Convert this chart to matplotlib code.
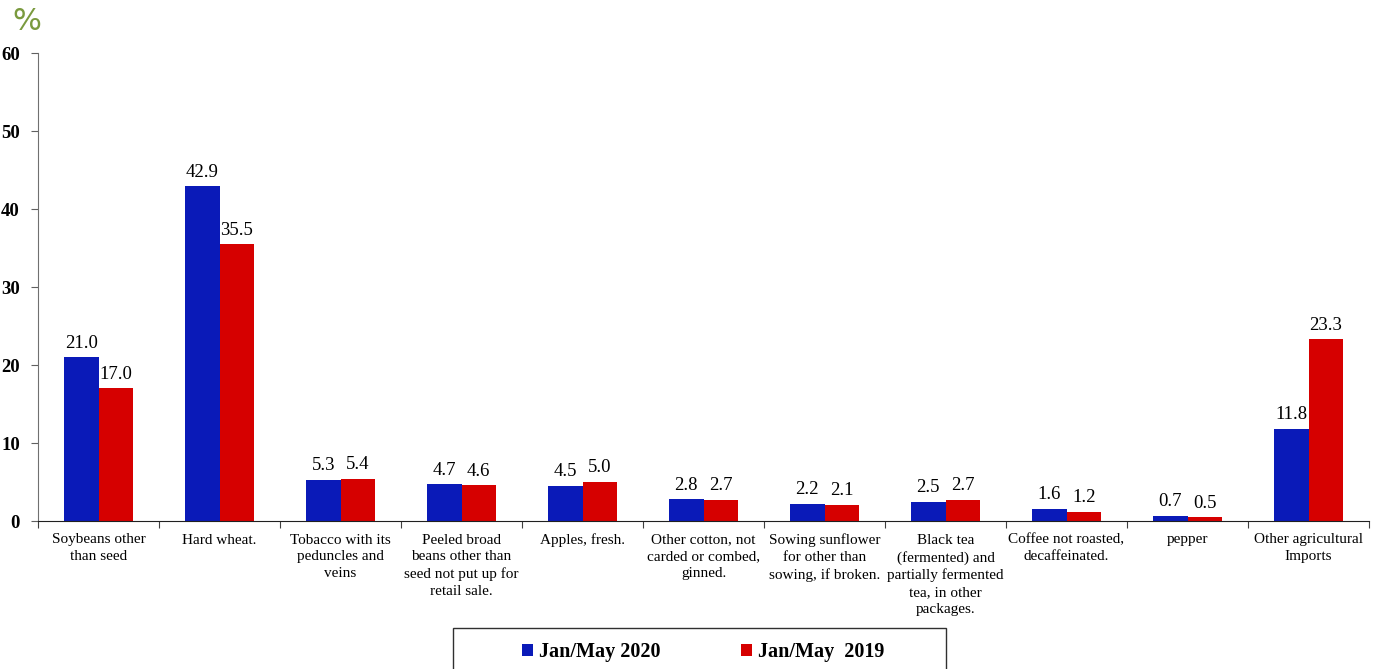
import matplotlib
matplotlib.use("Agg")
import matplotlib.pyplot as plt
import numpy as np
from matplotlib.patches import Rectangle

categories = ["Soybeans other\nthan seed", "Hard wheat.", "Tobacco with its\npeduncles and\nveins",
              "Peeled broad\nbeans other than\nseed not put up for\nretail sale.", "Apples, fresh.",
              "Other cotton, not\ncarded or combed,\nginned.", "Sowing sunflower\nfor other than\nsowing, if broken.",
              "Black tea\n(fermented) and\npartially fermented\ntea, in other\npackages.",
              "Coffee not roasted,\ndecaffeinated.", "pepper", "Other agricultural\nImports"]
jan_may_2020 = [21.0, 42.9, 5.3, 4.7, 4.5, 2.8, 2.2, 2.5, 1.6, 0.7, 11.8]
jan_may_2019 = [17.0, 35.5, 5.4, 4.6, 5.0, 2.7, 2.1, 2.7, 1.2, 0.5, 23.3]
series_names = ["Jan/May 2020", "Jan/May  2019"]
yticks = [0, 10, 20, 30, 40, 50, 60]

plt.rcParams['font.family'] = ['Liberation Serif', 'DejaVu Serif']

fig = plt.figure(figsize=(13.91, 6.69), dpi=100)
ax = fig.add_axes([38/1391, 1-521/669, (1369-38)/1391, (521-53)/669])

x = np.arange(len(categories))
w = 0.285
blue = "#0A1AB8"
red = "#D60000"
b1 = ax.bar(x - w/2, jan_may_2020, w, color=blue, label=series_names[0])
b2 = ax.bar(x + w/2, jan_may_2019, w, color=red, label=series_names[1])

for bars, vals in ((b1, jan_may_2020), (b2, jan_may_2019)):
    for r, v in zip(bars, vals):
        ax.annotate(f"{v:.1f}", (r.get_x() + r.get_width()/2, v), xytext=(0, 4),
                    textcoords="offset points", ha="center", va="bottom", fontsize=13.5)

ax.set_xlim(-0.5, len(categories) - 0.5)
ax.set_ylim(0, 60)
ax.set_yticks(yticks)
ax.set_yticklabels([str(t) for t in yticks])
for lab in ax.get_yticklabels():
    lab.set_fontweight("bold")
    lab.set_fontsize(13.5)
ax.set_xticks(np.arange(len(categories) + 1) - 0.5)
ax.set_xticklabels([])
ax.set_xticks(x, minor=True)
ax.set_xticklabels(categories, minor=True)
for lab in ax.get_xticklabels(minor=True):
    lab.set_fontsize(11)
    lab.set_linespacing(1.38)
    lab.set_verticalalignment("top")
ax.tick_params(axis="x", which="minor", length=0, pad=9)
ax.tick_params(axis="x", which="major", length=5, direction="out", color="#404040")
ax.tick_params(axis="y", length=5, direction="out", color="#606060", pad=8)
for s in ("top", "right"):
    ax.spines[s].set_visible(False)
ax.spines["left"].set_color("#707070")
ax.spines["bottom"].set_color("#202020")

fig.text(12/1391, 1-22/669, "%", color="#7A9A3E", fontsize=22, family="DejaVu Sans",
         ha="left", va="center")

leg = fig.legend(handles=[b1, b2], loc="upper center", bbox_to_anchor=(703/1391, 1-630/669),
                 ncol=2, frameon=False,
                 prop={"family": "Liberation Serif", "weight": "bold", "size": 14.5},
                 handlelength=0.55, handleheight=0.55, handletextpad=0.3, columnspacing=4.0,
                 borderpad=0.6, borderaxespad=0)
fig.patches.append(Rectangle((453/1391, -0.05), (946-453)/1391, 0.05 + 1-628/669,
                             transform=fig.transFigure, fill=False, edgecolor="#303030", lw=1.0))

fig.savefig("out.png", dpi=100)
